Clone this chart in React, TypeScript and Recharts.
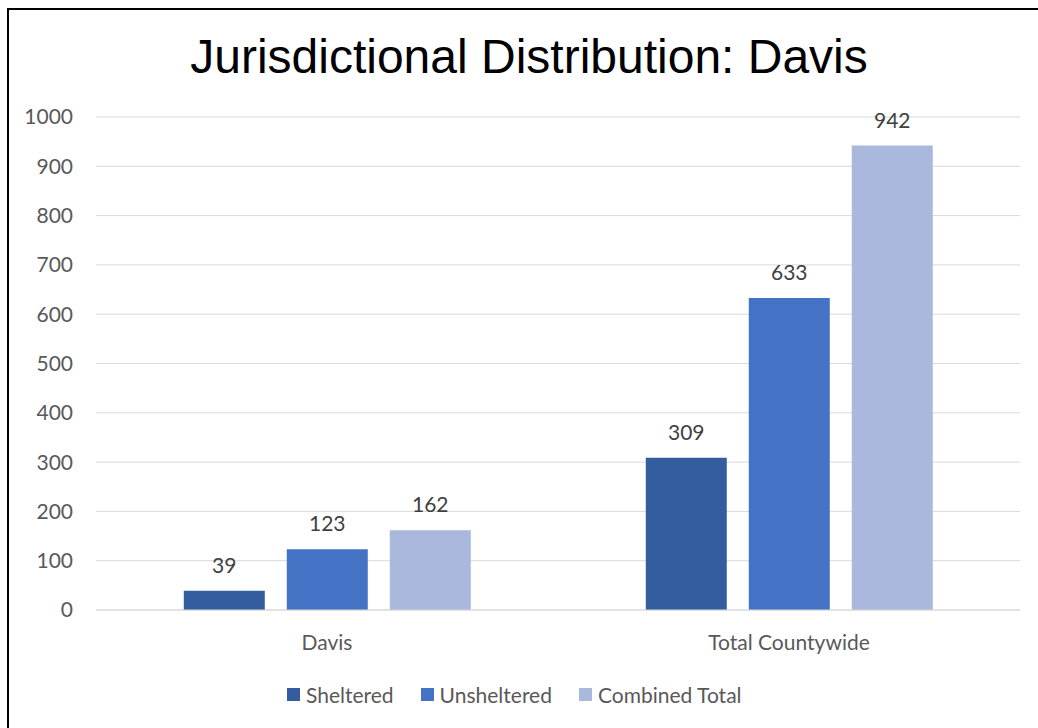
import { Bar, BarChart, CartesianGrid, LabelList, Legend, XAxis, YAxis } from 'recharts'

const categories = ['Davis', 'Total Countywide']
const sheltered = [39, 309]
const unsheltered = [123, 633]
const combinedTotal = [162, 942]
const yTicks = [0, 100, 200, 300, 400, 500, 600, 700, 800, 900, 1000]

const SERIES = [
  { key: 'sheltered', name: 'Sheltered', color: '#345D9F' },
  { key: 'unsheltered', name: 'Unsheltered', color: '#4472C4' },
  { key: 'combined', name: 'Combined Total', color: '#A9B8DC' },
]

const rows = categories.map((name, i) => ({
  name,
  sheltered: sheltered[i],
  unsheltered: unsheltered[i],
  combined: combinedTotal[i],
}))

const FONT = 'Lato, "Noto Sans", sans-serif'

function LegendRow() {
  return (
    <div style={{ display: 'flex', alignItems: 'center', fontFamily: FONT, fontSize: 21, color: '#595959', whiteSpace: 'nowrap' }}>
      {SERIES.map((s) => (
        <div key={s.key} style={{ display: 'flex', alignItems: 'center', marginRight: 27 }}>
          <span style={{ width: 13, height: 13, background: s.color, display: 'inline-block', marginRight: 6 }} />
          <span>{s.name}</span>
        </div>
      ))}
    </div>
  )
}

export default function App() {
  return (
    <div
      style={{
        position: 'fixed',
        left: 7,
        top: 8,
        width: 1031,
        height: 720,
        overflow: 'hidden',
        background: '#fff',
        borderTop: '2px solid #000',
        borderLeft: '2px solid #000',
        boxSizing: 'border-box',
      }}
    >
      <div
        style={{
          position: 'absolute',
          left: 0,
          top: 23,
          width: 1040,
          textAlign: 'center',
          fontFamily: '"Liberation Sans", Arial, sans-serif',
          fontSize: 48,
          lineHeight: '48px',
          color: '#000',
        }}
      >
        Jurisdictional Distribution: Davis
      </div>
      <div style={{ position: 'absolute', left: -2, top: -2 }}>
        <BarChart
          width={1031}
          height={720}
          data={rows}
          margin={{ top: 109, right: 18, bottom: 78, left: 0 }}
          barCategoryGap="19%"
          barGap={22}
          style={{ fontFamily: FONT }}
        >
          <CartesianGrid vertical={false} stroke="#D9D9D9" />
          <XAxis
            dataKey="name"
            height={40}
            axisLine={{ stroke: '#D9D9D9' }}
            tickLine={false}
            tickSize={0}
            tickMargin={25}
            tick={{ fill: '#595959', fontSize: 21 }}
          />
          <YAxis
            width={89}
            domain={[0, 1000]}
            ticks={yTicks}
            axisLine={false}
            tickLine={false}
            tickSize={0}
            tickMargin={23}
            tick={{ fill: '#595959', fontSize: 21 }}
          />
          <Legend
            verticalAlign="middle"
            align="center"
            content={<LegendRow />}
            wrapperStyle={{ left: 280, top: 674, width: 'auto', height: 'auto' }}
          />
          {SERIES.map((s) => (
            <Bar key={s.key} dataKey={s.key} name={s.name} fill={s.color} isAnimationActive={false}>
              <LabelList dataKey={s.key} position="top" offset={18} fill="#404040" fontSize={21} />
            </Bar>
          ))}
        </BarChart>
      </div>
    </div>
  )
}
